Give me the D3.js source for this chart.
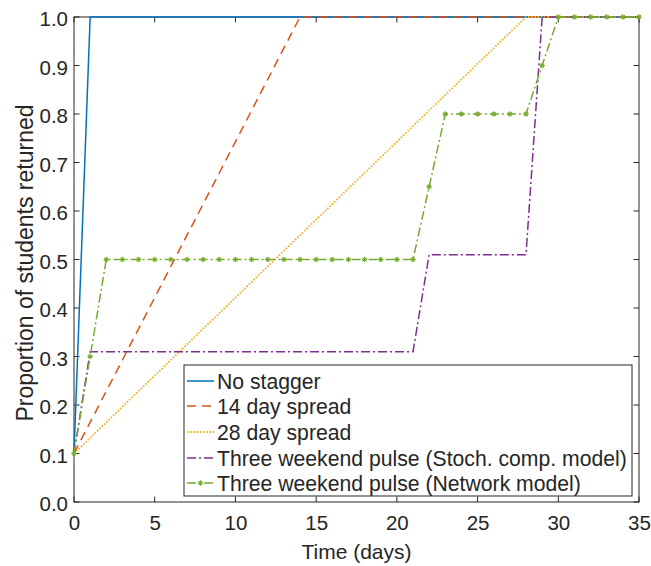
<!DOCTYPE html>
<html>
<head>
<meta charset="utf-8">
<script src="https://cdn.jsdelivr.net/npm/d3@7"></script>
<style>
  html, body { margin: 0; padding: 0; background: #fff; }
  svg text { font-family: "Liberation Sans", Arial, Helvetica, sans-serif; fill: #262626; }
</style>
</head>
<body>
<svg id="chart" width="651" height="566"></svg>
<script>
// Return curves: time in days vs. proportion of students back on campus
const noStaggerDays = [0, 1, 35];
const noStaggerVals = [0.1, 1, 1];

const spread14Days = [0, 14, 35];
const spread14Vals = [0.1, 1, 1];

const spread28Days = [0, 28, 35];
const spread28Vals = [0.1, 1, 1];

const pulseStochDays = [0, 1, 21, 22, 28, 29, 35];
const pulseStochVals = [0.1, 0.31, 0.31, 0.51, 0.51, 1, 1];

const pulseNetDays = [0, 1, 2, 3, 4, 5, 6, 7, 8, 9, 10, 11, 12, 13, 14, 15, 16, 17, 18, 19, 20, 21, 22, 23, 24, 25, 26, 27, 28, 29, 30, 31, 32, 33, 34, 35];
const pulseNetVals = [0.1, 0.3, 0.5, 0.5, 0.5, 0.5, 0.5, 0.5, 0.5, 0.5, 0.5, 0.5, 0.5, 0.5, 0.5, 0.5, 0.5, 0.5, 0.5, 0.5, 0.5, 0.5, 0.65, 0.8, 0.8, 0.8, 0.8, 0.8, 0.8, 0.9, 1, 1, 1, 1, 1, 1];

const seriesNames = [
  "No stagger",
  "14 day spread",
  "28 day spread",
  "Three weekend pulse (Stoch. comp. model)",
  "Three weekend pulse (Network model)"
];

const xTicks = [0, 5, 10, 15, 20, 25, 30, 35];
const yTicks = [0, 0.1, 0.2, 0.3, 0.4, 0.5, 0.6, 0.7, 0.8, 0.9, 1.0];

const xTitle = "Time (days)";
const yTitle = "Proportion of students returned";

// Plot box
const plotL = 74, plotR = 639, plotT = 17, plotB = 502;
const axisColor = "#262626";
const tickLen = 5.5;

const x = d3.scaleLinear().domain([0, 35]).range([plotL, plotR]);
const y = d3.scaleLinear().domain([0, 1]).range([plotB, plotT]);

const svg = d3.select("#chart");

const series = [
  { name: seriesNames[0], days: noStaggerDays, vals: noStaggerVals, color: "#0072BD", dash: null, width: 1.5, marker: false },
  { name: seriesNames[1], days: spread14Days, vals: spread14Vals, color: "#D95319", dash: "9,6", width: 1.5, marker: false },
  { name: seriesNames[2], days: spread28Days, vals: spread28Vals, color: "#EDB120", dash: "1.6,1.6", width: 1.8, marker: false },
  { name: seriesNames[3], days: pulseStochDays, vals: pulseStochVals, color: "#7E2F8E", dash: "9,3,2,3", width: 1.5, marker: false },
  { name: seriesNames[4], days: pulseNetDays, vals: pulseNetVals, color: "#77AC30", dash: "9,3,2,3", width: 1.5, marker: true }
];

// Axes box with ticks on all four sides
const axesG = svg.append("g");

const bottomAxis = d3.axisBottom(x).tickValues(xTicks).tickSize(0).tickPadding(0).tickFormat(d3.format("d"));
const leftAxis = d3.axisLeft(y).tickValues(yTicks).tickSize(0).tickPadding(0).tickFormat(d3.format(".1f"));

const gx = axesG.append("g").attr("transform", `translate(0,${plotB})`).call(bottomAxis);
gx.select(".domain").remove();
gx.selectAll("text")
  .attr("y", 28).attr("dy", null)
  .style("font-size", "20.5px").style("fill", axisColor);

const gy = axesG.append("g").attr("transform", `translate(${plotL},0)`).call(leftAxis);
gy.select(".domain").remove();
gy.selectAll("text")
  .attr("x", -6).attr("dy", "0.42em")
  .style("font-size", "20.5px").style("fill", axisColor);

// Inward ticks
const tickG = svg.append("g").attr("stroke", axisColor).attr("stroke-width", 1);
xTicks.forEach(t => {
  tickG.append("line").attr("x1", x(t)).attr("x2", x(t)).attr("y1", plotB).attr("y2", plotB - tickLen);
  tickG.append("line").attr("x1", x(t)).attr("x2", x(t)).attr("y1", plotT).attr("y2", plotT + tickLen);
});
yTicks.forEach(t => {
  tickG.append("line").attr("x1", plotL).attr("x2", plotL + tickLen).attr("y1", y(t)).attr("y2", y(t));
  tickG.append("line").attr("x1", plotR).attr("x2", plotR - tickLen).attr("y1", y(t)).attr("y2", y(t));
});

svg.append("rect")
  .attr("x", plotL).attr("y", plotT)
  .attr("width", plotR - plotL).attr("height", plotB - plotT)
  .attr("fill", "none").attr("stroke", axisColor).attr("stroke-width", 1);

// Asterisk marker path
function asterisk(cx, cy, r) {
  let p = "";
  for (let k = 0; k < 4; k++) {
    const a = k * Math.PI / 4;
    const dx = r * Math.cos(a), dy = r * Math.sin(a);
    p += `M${cx - dx},${cy - dy}L${cx + dx},${cy + dy}`;
  }
  return p;
}

// Data lines
const line = d3.line().x(d => x(d[0])).y(d => y(d[1]));
const plotG = svg.append("g");
series.forEach(s => {
  const pts = s.days.map((d, i) => [d, s.vals[i]]);
  plotG.append("path")
    .attr("d", line(pts))
    .attr("fill", "none")
    .attr("stroke", s.color)
    .attr("stroke-width", s.width)
    .attr("stroke-dasharray", s.dash);
  if (s.marker) {
    plotG.append("path")
      .attr("d", pts.map(p => asterisk(x(p[0]), y(p[1]), 2.8)).join(""))
      .attr("fill", "none")
      .attr("stroke", s.color)
      .attr("stroke-width", 1.1);
  }
});

// Legend
const lgX = 184, lgY = 365, lgW = 448, lgH = 131;
const lg = svg.append("g");
lg.append("rect")
  .attr("x", lgX).attr("y", lgY).attr("width", lgW).attr("height", lgH)
  .attr("fill", "#fff").attr("stroke", "#262626").attr("stroke-width", 1);
const rowY = [381, 406, 432, 458, 483];
series.forEach((s, i) => {
  const ry = rowY[i];
  lg.append("line")
    .attr("x1", lgX + 3).attr("x2", lgX + 30)
    .attr("y1", ry).attr("y2", ry)
    .attr("stroke", s.color).attr("stroke-width", s.width)
    .attr("stroke-dasharray", s.dash);
  if (s.marker) {
    lg.append("path")
      .attr("d", asterisk(lgX + 16.5, ry, 2.8))
      .attr("fill", "none").attr("stroke", s.color).attr("stroke-width", 1.1);
  }
  lg.append("text")
    .attr("x", lgX + 33).attr("y", ry).attr("dy", "0.36em")
    .style("font-size", "21.2px")
    .text(s.name);
});

// Axis titles
svg.append("text")
  .attr("x", (plotL + plotR) / 2).attr("y", 559)
  .attr("text-anchor", "middle")
  .style("font-size", "21px")
  .text(xTitle);

svg.append("text")
  .attr("transform", `translate(32.5,263) rotate(-90)`)
  .attr("text-anchor", "middle")
  .style("font-size", "23px")
  .text(yTitle);
</script>
</body>
</html>
